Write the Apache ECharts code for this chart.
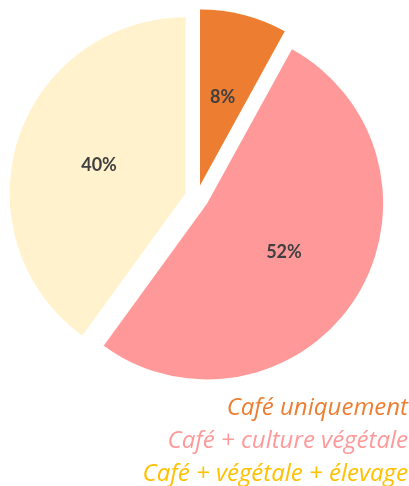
<!DOCTYPE html>
<html>
<head>
<meta charset="utf-8">
<script src="https://cdn.jsdelivr.net/npm/echarts@6/dist/echarts.min.js"></script>
<style>
  html, body { margin: 0; padding: 0; background: #fff; }
  #main { width: 409px; height: 486px; }
</style>
</head>
<body>
<div id="main"></div>
<script>
const categories = ['Café uniquement', 'Café + culture végétale', 'Café + végétale + élevage'];
const values = [8, 52, 40];
const sliceColors = ['#ED7D31', '#FF9999', '#FFF2CC'];
const legendColors = ['#ED7D31', '#FF9999', '#FFC000'];
// small nudges so the % labels sit where the original put them
const labelNudge = [[0, 6], [-4, 3], [1, 4]];

const chart = echarts.init(document.getElementById('main'));

// legend drawn as right-aligned coloured lines under the pie
const legendTexts = categories.map(function (name, i) {
    return {
        type: 'text',
        right: 1,
        top: 396 + i * 33,
        style: {
            text: name,
            fill: legendColors[i],
            fontFamily: 'Open Sans',
            fontStyle: 'italic',
            fontSize: 24
        }
    };
});

chart.setOption({
    animation: false,
    graphic: legendTexts,
    series: [{
        type: 'pie',
        center: [197, 197],
        radius: [0, 176],
        startAngle: 90,
        clockwise: true,
        selectedMode: 'multiple',
        selectedOffset: 12,
        label: {
            position: 'inside',
            formatter: '{c}%',
            color: '#404040',
            fontFamily: 'Lato',
            fontWeight: 'bold',
            fontSize: 18
        },
        labelLine: { show: false },
        emphasis: { disabled: true },
        data: categories.map(function (name, i) {
            return {
                name: name,
                value: values[i],
                selected: true,
                itemStyle: { color: sliceColors[i] },
                label: { offset: labelNudge[i] }
            };
        })
    }]
});
</script>
</body>
</html>
